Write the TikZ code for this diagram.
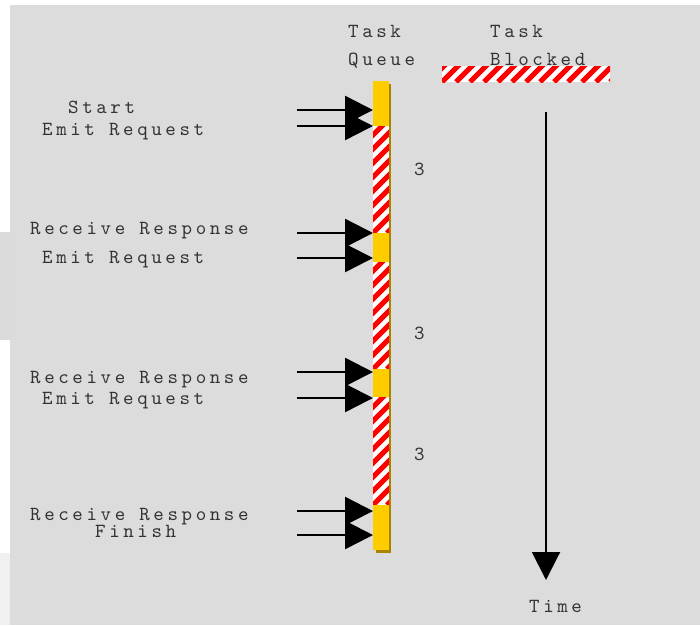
\documentclass[tikz,border=0pt]{standalone}
\usepackage{fontspec}
\newfontfamily\labelfont{lmmono10-regular.otf}[LetterSpace=18]
\usetikzlibrary{arrows.meta}

\definecolor{panelgray}{HTML}{DCDCDC}
\definecolor{runyellow}{HTML}{FFCC00}
\definecolor{runshadow}{HTML}{A88400}
\definecolor{blockred}{HTML}{FF0000}

\tikzset{
  lbl/.style={font=\labelfont\fontsize{20}{22}\selectfont, text=black!80,
    inner sep=0pt, anchor=base west},
  run/.style={fill=runyellow, draw=none, inner sep=0pt, outer sep=0pt,
    minimum width=16pt, anchor=north west},
  blocked/.style={fill=white, draw=none, inner sep=0pt, outer sep=0pt,
    anchor=north west,
    path picture={
      \foreach \k in {-10,...,14}
        \draw[blockred, line width=5pt]
          ([xshift=\k*14pt]path picture bounding box.south west) -- ++(200pt,200pt);
    }},
  sig/.style={-{Triangle[length=28pt,width=28pt]}, line width=2.5pt},
}

\begin{document}
\begin{tikzpicture}[x=1pt, y=-1pt]

  \def\barx{373}   % left edge of the queue bar
  \def\tailx{297}  % where the incoming arrows start

  \useasboundingbox (0,0) rectangle (700,625);

  % --- Background ---
  \fill[white] (0,0) rectangle (700,625);
  \fill[panelgray] (10,5) rectangle (700,625);
  \fill[gray!28] (0,232) rectangle (10,340);
  \fill[gray!12] (0,553) rectangle (10,625);

  % --- Headings ---
  \node[lbl] (qhead) at (348,37) {Task};
  \node[lbl] (qhead2) at (348,65) {Queue};
  \node[lbl] (bhead) at (490,37) {Task};
  \node[lbl] (bhead2) at (490,65) {Blocked};
  \node[blocked, minimum width=168pt, minimum height=16pt] (legend) at (442,66) {};

  % --- Task queue bar ---
  \fill[runshadow] (\barx+3,84) rectangle (\barx+18,553);
  \node[run, minimum height=45pt] (q1) at (\barx,81) {};
  \node[blocked, minimum width=16pt, minimum height=107pt] (b1) at (\barx,126) {};
  \node[run, minimum height=29pt] (q2) at (\barx,233) {};
  \node[blocked, minimum width=16pt, minimum height=107pt] (b2) at (\barx,262) {};
  \node[run, minimum height=28pt] (q3) at (\barx,369) {};
  \node[blocked, minimum width=16pt, minimum height=108pt] (b3) at (\barx,397) {};
  \node[run, minimum height=45pt] (q4) at (\barx,505) {};

  % blocking times
  \node[lbl] (d1) at (414,175) {3};
  \node[lbl] (d2) at (414,339) {3};
  \node[lbl] (d3) at (414,460) {3};

  % --- Events ---
  \node[lbl] (e1a) at (68,113) {Start};
  \node[lbl] (e1b) at (42,135) {Emit Request};
  \node[lbl] (e2a) at (30,234) {Receive Response};
  \node[lbl] (e2b) at (42,263) {Emit Request};
  \node[lbl] (e3a) at (30,383) {Receive Response};
  \node[lbl] (e3b) at (42,404) {Emit Request};
  \node[lbl] (e4a) at (30,520) {Receive Response};
  \node[lbl] (e4b) at (95,537) {Finish};

  \coordinate (s1a) at (\tailx,110);
  \coordinate (s1b) at (\tailx,126);
  \coordinate (s2a) at (\tailx,233);
  \coordinate (s2b) at (\tailx,258);
  \coordinate (s3a) at (\tailx,372);
  \coordinate (s3b) at (\tailx,398);
  \coordinate (s4a) at (\tailx,511);
  \coordinate (s4b) at (\tailx,535);

  \draw[sig] (s1a) -- (s1a -| q1.west);
  \draw[sig] (s1b) -- (s1b -| q1.west);
  \draw[sig] (s2a) -- (s2a -| q2.west);
  \draw[sig] (s2b) -- (s2b -| q2.west);
  \draw[sig] (s3a) -- (s3a -| q3.west);
  \draw[sig] (s3b) -- (s3b -| q3.west);
  \draw[sig] (s4a) -- (s4a -| q4.west);
  \draw[sig] (s4b) -- (s4b -| q4.west);

  % --- Time axis ---
  \coordinate (t0) at (546,112);
  \coordinate (t1) at (546,580);
  \draw[sig, line width=2pt] (t0) -- (t1);
  \node[lbl] (time) at (529,612) {Time};

\end{tikzpicture}
\end{document}
